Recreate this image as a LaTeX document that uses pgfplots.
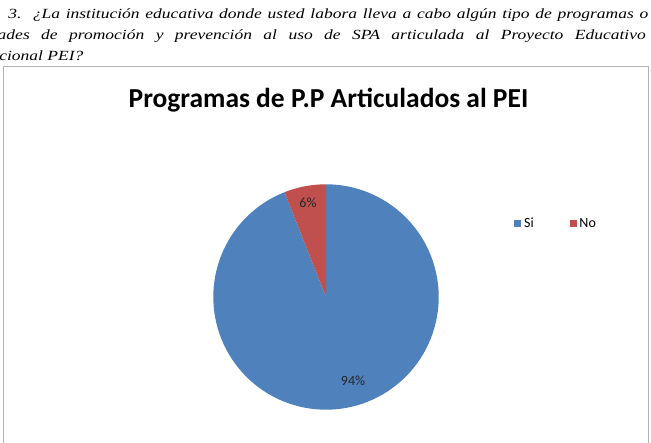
\documentclass[border=0pt]{standalone}
\usepackage{pgfplots}
\pgfplotsset{compat=1.18}
\usepackage{pgfplotstable}
\usepackage{fontspec}
\setmainfont{Liberation Serif}
\newfontfamily\calibri{Carlito}
\newlength\px \setlength\px{0.75pt}
\definecolor{siblue}{HTML}{4F81BD}
\definecolor{nored}{HTML}{C0504D}
\definecolor{framegray}{HTML}{B4B4B4}
\definecolor{lbl}{HTML}{262626}

\pgfplotstableread{
label value
Si 94
No 6
}\piedata

\newcommand\hdr[2]{\scalebox{1.25}[1]{\makebox[\dimexpr #1\px*100/125\relax][s]{#2}}}

\begin{document}
\pgfplotstablegetelem{0}{value}\of\piedata \let\vsi\pgfplotsretval
\pgfplotstablegetelem{1}{value}\of\piedata \let\vno\pgfplotsretval
\begin{tikzpicture}
\begin{scope}[x=0.75pt,y=0.75pt]
\useasboundingbox (0,0) rectangle (651,443);
\clip (0,0) rectangle (651,443);
% header text
\node[anchor=base west, inner sep=0pt, font=\itshape\fontsize{10.5}{12}\selectfont] at (8,443-19)
  {\hdr{640}{3.\ \ ¿La institución educativa donde usted labora lleva a cabo algún tipo de programas o}};
\node[anchor=base east, inner sep=0pt, font=\itshape\fontsize{10.5}{12}\selectfont] at (646,443-40)
  {\hdr{648}{ades de promoción y prevención al uso de SPA articulada al Proyecto Educativo}};
\node[anchor=base west, inner sep=0pt, font=\itshape\fontsize{10.5}{12}\selectfont] at (-1,443-61)
  {\scalebox{1.25}[1]{cional PEI?}};
% chart frame
\draw[framegray, line width=1.1pt] (3.5,-10) -- (3.5,443-66.5) -- (648.5,443-66.5) -- (648.5,-10);
% title
\node[anchor=base, inner sep=0pt, font=\calibri\bfseries\fontsize{20.6}{24}\selectfont] at (328.5,443-108)
  {Programas de P.P Articulados al PEI};
\end{scope}
\begin{axis}[
  at={(244.5pt,109.5pt)}, anchor=origin,
  scale only axis, width=169.05pt, height=169.05pt,
  xmin=-1, xmax=1, ymin=-1, ymax=1,
  hide axis, clip=false,
  legend columns=2,
  legend style={draw=none, fill=none, inner sep=0pt,
    font=\calibri\fontsize{10.5}{12}\selectfont,
    at={(1.335,0.825)}, anchor=west,
    /tikz/every even column/.append style={column sep=25pt}},
  legend image code/.code={\fill[#1] (0pt,-2.6pt) rectangle (5.25pt,2.65pt);},
]
\addplot[fill=siblue, draw=none, domain={90+3.6*\vno}:450, samples=240, variable=\t]
  ({cos(\t)},{sin(\t)}) -- (axis cs:0,0) -- cycle;
\addlegendentry{Si}
\addplot[fill=nored, draw=none, domain=90:{90+3.6*\vno}, samples=40, variable=\t]
  ({cos(\t)},{sin(\t)}) -- (axis cs:0,0) -- cycle;
\addlegendentry{No}
\node[font=\calibri\fontsize{10.5}{12}\selectfont, text=lbl] at (axis cs:-0.16,0.835) {6\%};
\node[font=\calibri\fontsize{10.5}{12}\selectfont, text=lbl] at (axis cs:0.24,-0.745) {94\%};
\end{axis}
\end{tikzpicture}
\end{document}
